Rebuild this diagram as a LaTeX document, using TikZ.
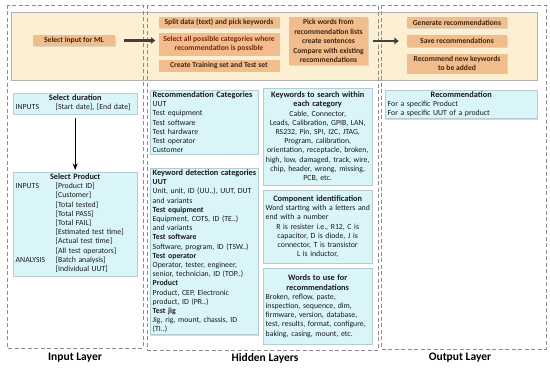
\documentclass[tikz,border=0pt]{standalone}
\usepackage{fontspec}
\setmainfont{Carlito}
\usepackage{xcolor}
\usepackage{tikz}
\usetikzlibrary{arrows.meta,positioning,shadows}

\definecolor{bandfill}{HTML}{FCEFD2}
\definecolor{taskfill}{HTML}{F2BD8D}
\definecolor{taskink}{HTML}{3D2512}
\definecolor{selink}{HTML}{7A2410}
\definecolor{infofill}{HTML}{DAF5FA}
\definecolor{infoline}{HTML}{B5CDD2}
\definecolor{layergray}{HTML}{8C8C8C}
\definecolor{flowgray}{HTML}{404040}

\newcommand\boxhead[1]{\mbox{\fontsize{8.3}{9.2}\selectfont\bfseries #1}}

\begin{document}
\begin{tikzpicture}[x=1pt, y=-1pt,
  node distance=4pt and 9pt,
  layer/.style={draw=layergray, line width=0.9pt, dash pattern=on 4pt off 2.5pt},
  band/.style={draw=gray!60, fill=bandfill, line width=0.6pt},
  task/.style={fill=taskfill, align=center, inner sep=1.5pt,
    font=\fontsize{7.6}{9.4}\selectfont\bfseries, text=taskink,
    drop shadow={shadow xshift=0.8pt, shadow yshift=-0.8pt, fill=black!30, opacity=0.4}},
  info/.style={draw=infoline, fill=infofill, inner xsep=2.5pt, inner ysep=1.5pt,
    anchor=north west, font=\fontsize{7.8}{9.2}\selectfont, text=black!90,
    drop shadow={shadow xshift=1pt, shadow yshift=-1pt, fill=black!35, opacity=0.45}},
  layername/.style={font=\fontsize{11.5}{13}\selectfont\bfseries},
  flow/.style={-{Triangle[length=4.5pt, width=6.5pt]}, line width=2.2pt, draw=flowgray},
  >={Stealth[]}]
  \useasboundingbox[fill=white] (0,0) rectangle (550,369);
  \draw[band] (11,12) rectangle (537,80);
  \draw[layer] (7,5) rectangle (143,348);
  \draw[layer] (147,5) rectangle (378,350);
  \draw[layer] (381,5) rectangle (546,349);

  \node[task, minimum width=82pt, minimum height=11pt] (mlinput) at (74,40.5) {Select input for ML};
  \node[task, minimum width=121pt, minimum height=11.5pt] (split) at (219,22.5) {Split data (text) and pick keywords};
  \node[task, minimum width=121pt, minimum height=23pt, below=4pt of split, text=selink] (catsel) {Select all possible categories where\\recommendation is possible};
  \node[task, minimum width=121pt, minimum height=11.5pt, below=4pt of catsel] (trainset) {Create Training set and Test set};
  \node[task, minimum width=79pt, minimum height=48pt] (pick) at (328.5,41) {Pick words from\\recommendation lists\\create sentences\\Compare with existing\\recommendations};
  \node[task, minimum width=100pt, minimum height=11.5pt] (generate) at (457,22.5) {Generate recommendations};
  \node[task, minimum width=100pt, minimum height=12pt, below=6.5pt of generate] (save) {Save recommendations};
  \node[task, minimum width=100pt, minimum height=20pt, below=6pt of save] (newkw) {Recommend new keywords\\to be added};
  \draw[flow, shorten <=9pt, shorten >=3pt] (mlinput.east) -- (mlinput.east -| catsel.west);
  \draw[flow, shorten <=5pt, shorten >=8pt] (pick.east) -- (pick.east -| save.west);

  \node[info, text width=119pt, align=center] (duration) at (13,93) {\boxhead{Select duration}\\
    \begin{tabular}[t]{@{}p{40pt}@{}p{79pt}@{}}INPUTS & [Start date], [End date]\end{tabular}};
  \node[info, text width=119pt, align=center] (product) at (13,172) {\boxhead{Select Product}\\
    \begin{tabular}[t]{@{}p{40pt}@{}p{79pt}@{}}
      INPUTS & [Product ID]\\
      & [Customer]\\
      & [Total tested]\\
      & [Total PASS]\\
      & [Total FAIL]\\
      & [Estimated test time]\\
      & [Actual test time]\\
      & [All test operators]\\
      ANALYSIS & [Batch analysis]\\
      & [Individual UUT]
    \end{tabular}};
  \draw[->, line width=0.8pt, shorten <=4pt, shorten >=2pt] (duration) -- (product);

  \node[info, text width=103pt, align=left] (reccat) at (150,90) {\boxhead{Recommendation Categories}\\
    UUT\\Test equipment\\Test software\\Test hardware\\Test operator\\Customer};
  \node[info, text width=103pt, align=left] (kwdetect) at (150,168) {\boxhead{Keyword detection categories}\\
    \textbf{UUT}\\Unit, unit, ID (UU..), UUT, DUT\\and variants\\
    \textbf{Test equipment}\\Equipment, COTS, ID (TE..)\\and variants\\
    \textbf{Test software}\\Software, program, ID (TSW..)\\
    \textbf{Test operator}\\Operator, tester, engineer,\\senior, technician, ID (TOP..)\\
    \textbf{Product}\\Product, CEP, Electronic\\product, ID (PR..)\\
    \textbf{Test jig}\\Jig, rig, mount, chassis, ID\\(TI..)};
  \node[info, text width=104pt, align=center, minimum height=97pt] (kwsearch) at (263,88) {\boxhead{Keywords to search within}\\
    \boxhead{each category}\\Cable, Connector,\\Leads, Calibration, GPIB, LAN,\\RS232, Pin, SPI, I2C, JTAG,\\
    Program, calibration,\\orientation, receptacle, broken,\\high, low, damaged, track, wire,\\
    chip, header, wrong, missing,\\PCB, etc.};
  \node[info, text width=104pt, align=center, minimum height=73pt] (compid) at (263,190) {\boxhead{Component identification}\\
    \makebox[104pt][l]{Word starting with a letters and}\\\makebox[104pt][l]{end with a number}\\
    R is resister i.e., R12, C is\\capacitor, D is diode, J is\\connector, T is transistor\\L is inductor,};
  \node[info, text width=104pt, align=left, minimum height=76pt] (recwords) at (263,268) {\makebox[104pt]{\boxhead{Words to use for}}\\
    \makebox[104pt]{\boxhead{recommendations}}\\Broken, reflow, paste,\\inspection, sequence, dim,\\
    firmware, version, database,\\test, results, format, configure,\\baking, casing, mount, etc.};

  \node[info, text width=147pt, align=left] (outrec) at (385,90) {\makebox[147pt]{\boxhead{Recommendation}}\\
    For a specific Product\\For a specific UUT of a product};

  \node[layername] (inlayer) at (75,358) {Input Layer};
  \node[layername] (hiddenlayer) at (265,358) {Hidden Layers};
  \node[layername] (outlayer) at (460,358) {Output Layer};
\end{tikzpicture}
\end{document}
